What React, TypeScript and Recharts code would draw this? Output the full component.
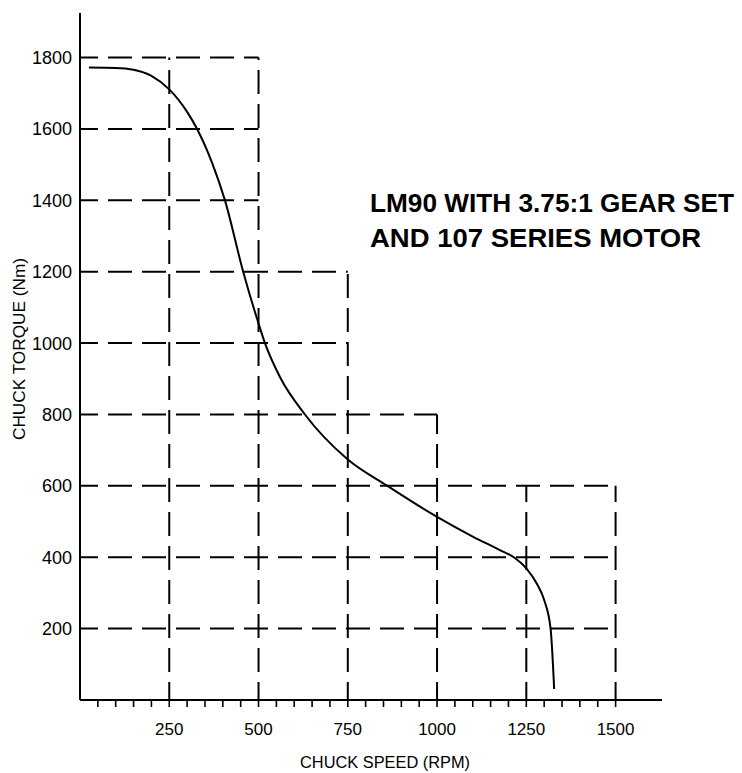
import React from 'react';
import { LineChart, Line, XAxis, YAxis, ReferenceLine } from 'recharts';

const speeds = [25, 100, 150, 200, 250, 300, 328, 370, 406, 457, 500, 518, 560, 630, 750, 861, 1000, 1100, 1176, 1218, 1250, 1280, 1300, 1318, 1328];
const torques = [1772, 1771, 1766, 1749, 1711, 1648, 1600, 1505, 1400, 1200, 1055, 1000, 905, 800, 674, 600, 513, 458, 420, 398, 369, 325, 280, 200, 31];

const xTicks = [50, 100, 150, 200, 250, 300, 350, 400, 450, 500, 550, 600, 650, 700, 750, 800, 850, 900, 950, 1000, 1050, 1100, 1150, 1200, 1250, 1300, 1350, 1400, 1450, 1500];
const xLabelTicks = [250, 500, 750, 1000, 1250, 1500];
const yTicks = [200, 400, 600, 800, 1000, 1200, 1400, 1600, 1800];

// horizontal dashed grid lines: level and right end
const hGridLevels = [1800, 1600, 1400, 1200, 1000, 800, 600, 400, 200];
const hGridEnds = [500, 500, 500, 750, 750, 1000, 1500, 1500, 1500];
// vertical dashed grid lines: position and top end
const vGridPositions = [250, 500, 750, 1000, 1250, 1500];
const vGridTops = [1800, 1800, 1200, 800, 600, 600];

const titleLines = ['LM90 WITH 3.75:1 GEAR SET', 'AND 107 SERIES MOTOR'];
const xTitle = 'CHUCK SPEED (RPM)';
const yTitle = 'CHUCK TORQUE (Nm)';

const data = speeds.map((s, i) => ({ x: s, y: torques[i] }));

const FONT = '"Liberation Sans", Arial, Helvetica, sans-serif';

const XTick = (props: any) => {
  const { x, y, payload } = props;
  if (!xLabelTicks.includes(payload.value)) return null;
  return (
    <text x={x} y={y + 26} textAnchor="middle" fontFamily={FONT} fontSize={17} fill="#000">
      {payload.value}
    </text>
  );
};

const YTick = (props: any) => {
  const { y, payload } = props;
  return (
    <text x={72} y={y + 6.5} textAnchor="end" fontFamily={FONT} fontSize={18} fill="#000">
      {payload.value}
    </text>
  );
};

const dash = { stroke: '#000', strokeWidth: 2, strokeDasharray: '24 10' };

export default function App() {
  return (
    <div style={{ position: 'fixed', left: 0, top: 0, background: '#fff' }}>
      <LineChart
        width={742}
        height={773}
        data={data}
        margin={{ top: 13, right: 80, bottom: 33, left: 20 }}
      >
        <XAxis
          type="number"
          dataKey="x"
          domain={[0, 1630]}
          ticks={xTicks}
          interval={0}
          tick={<XTick />}
          tickSize={7}
          tickLine={{ stroke: '#000', strokeWidth: 1.6 }}
          axisLine={{ stroke: '#000', strokeWidth: 2 }}
          height={40}
        />
        <YAxis
          type="number"
          domain={[0, 1925]}
          ticks={yTicks}
          interval={0}
          tick={<YTick />}
          tickLine={false}
          axisLine={{ stroke: '#000', strokeWidth: 2 }}
          width={60}
        />
        {hGridLevels.map((lv, i) => (
          <ReferenceLine
            key={'h' + lv}
            segment={[{ x: 0, y: lv }, { x: hGridEnds[i], y: lv }]}
            {...dash}
            strokeDashoffset={6}
          />
        ))}
        {vGridPositions.map((p, i) => (
          <ReferenceLine
            key={'v' + p}
            segment={[{ x: p, y: 0 }, { x: p, y: vGridTops[i] }]}
            {...dash}
            strokeDashoffset={6}
          />
        ))}
        <Line
          type="monotone"
          dataKey="y"
          stroke="#000"
          strokeWidth={2}
          dot={false}
          activeDot={false}
          isAnimationActive={false}
        />
        <text
          x={370}
          y={211.5}
          fontFamily={FONT}
          fontWeight="bold"
          fontSize={26.5}
          textLength={364}
          lengthAdjust="spacingAndGlyphs"
          fill="#000"
        >
          {titleLines[0]}
        </text>
        <text
          x={370}
          y={246.5}
          fontFamily={FONT}
          fontWeight="bold"
          fontSize={26.5}
          textLength={331}
          lengthAdjust="spacingAndGlyphs"
          fill="#000"
        >
          {titleLines[1]}
        </text>
        <text
          x={385}
          y={768}
          textAnchor="middle"
          fontFamily={FONT}
          fontSize={16}
          textLength={170}
          lengthAdjust="spacingAndGlyphs"
          fill="#000"
        >
          {xTitle}
        </text>
        <text
          x={25}
          y={349}
          textAnchor="middle"
          fontFamily={FONT}
          fontSize={16}
          textLength={182}
          lengthAdjust="spacingAndGlyphs"
          transform="rotate(-90 25 349)"
          fill="#000"
        >
          {yTitle}
        </text>
      </LineChart>
    </div>
  );
}
